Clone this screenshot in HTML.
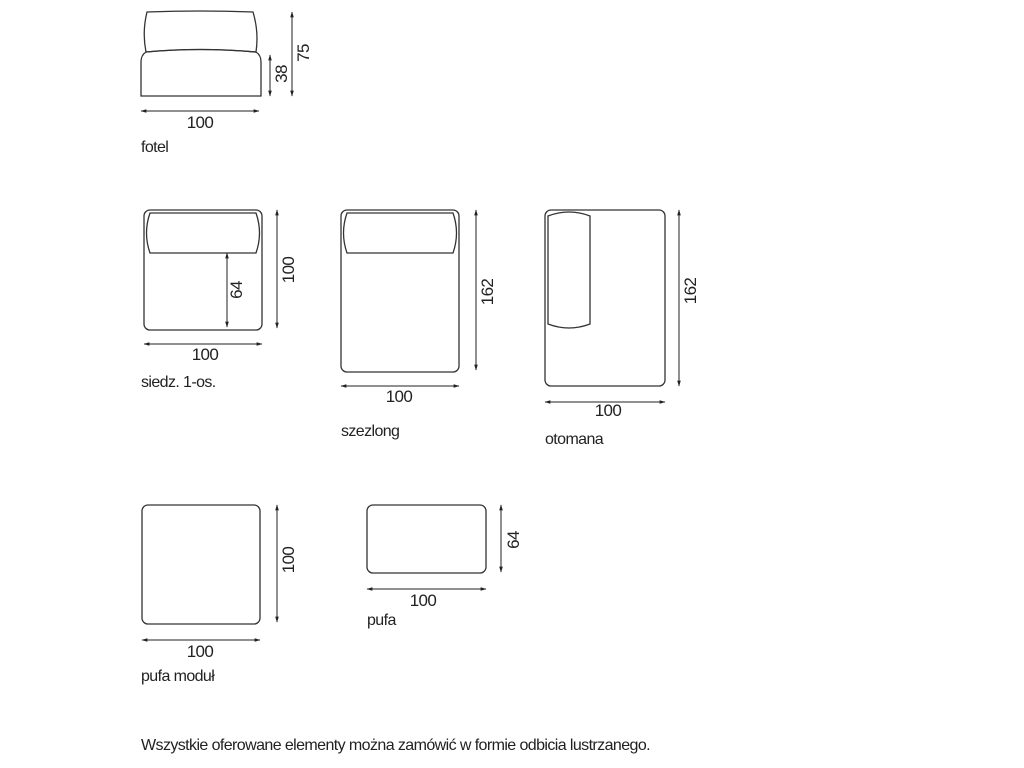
<!DOCTYPE html>
<html><head><meta charset="utf-8"><style>
html,body{margin:0;padding:0;background:#fff;width:1024px;height:768px;overflow:hidden}
svg{display:block}
text{font-family:"Liberation Sans",sans-serif;fill:#222;letter-spacing:-0.6px}
</style></head><body>
<svg width="1024" height="768" viewBox="0 0 1024 768">
<defs>
<marker id="a" viewBox="0 0 10 10" refX="9" refY="5" markerWidth="6" markerHeight="6" orient="auto-start-reverse"><path d="M0,2 L10,5 L0,8 z" fill="#222"/></marker>
</defs>
<g fill="none" stroke="#333" stroke-width="1.3">
<path d="M147,12 Q200,10 253,12 Q259,32 256,52 Q200,47 146,52 Q142,32 147,12 Z"/>
<path d="M146,52 Q200,47 256,52 Q261,55 261,62 L261,96 L141,96 L141,62 Q141,55 146,52 Z"/>
<rect x="144" y="210" width="118" height="120" rx="6"/>
<path d="M150,213 L256,213 Q263,233 256,253 L150,253 Q143,233 150,213 Z"/>
<rect x="341" y="210" width="118" height="162" rx="6"/>
<path d="M347,213 L453,213 Q460,233 453,253 L347,253 Q340,233 347,213 Z"/>
<rect x="545" y="210" width="120" height="176" rx="6"/>
<path d="M548,216 Q569,208 590,216 L590,324 Q569,332 548,324 Z"/>
<rect x="142" y="505" width="118" height="119" rx="6"/>
<rect x="367" y="505" width="119" height="68" rx="6"/>
</g>
<g stroke="#222" stroke-width="1" marker-start="url(#a)" marker-end="url(#a)">
<line x1="270" y1="55" x2="270" y2="96"/>
<line x1="292" y1="12" x2="292" y2="96"/>
<line x1="141" y1="111" x2="259" y2="111"/>
<line x1="227" y1="253" x2="227" y2="327"/>
<line x1="277" y1="210" x2="277" y2="328"/>
<line x1="144" y1="344" x2="262" y2="344"/>
<line x1="476" y1="210" x2="476" y2="370"/>
<line x1="341" y1="386" x2="459" y2="386"/>
<line x1="679" y1="210" x2="679" y2="386"/>
<line x1="545" y1="402" x2="665" y2="402"/>
<line x1="277" y1="505" x2="277" y2="622"/>
<line x1="142" y1="640" x2="260" y2="640"/>
<line x1="501" y1="505" x2="501" y2="572"/>
<line x1="367" y1="589" x2="486" y2="589"/>
</g>
<g font-size="17">
<text x="200" y="128" text-anchor="middle">100</text>
<text transform="translate(287,74) rotate(-90)" text-anchor="middle">38</text>
<text transform="translate(309,53) rotate(-90)" text-anchor="middle">75</text>
<text x="205" y="360" text-anchor="middle">100</text>
<text transform="translate(242,290) rotate(-90)" text-anchor="middle">64</text>
<text transform="translate(294,270) rotate(-90)" text-anchor="middle">100</text>
<text x="399" y="402" text-anchor="middle">100</text>
<text transform="translate(493,292) rotate(-90)" text-anchor="middle">162</text>
<text x="608" y="416" text-anchor="middle">100</text>
<text transform="translate(696,291) rotate(-90)" text-anchor="middle">162</text>
<text x="200" y="657" text-anchor="middle">100</text>
<text transform="translate(294,560) rotate(-90)" text-anchor="middle">100</text>
<text x="423" y="606" text-anchor="middle">100</text>
<text transform="translate(519,540) rotate(-90)" text-anchor="middle">64</text>
</g>
<g font-size="16">
<text x="141" y="152">fotel</text>
<text x="141" y="387">siedz. 1-os.</text>
<text x="341" y="436">szezlong</text>
<text x="545" y="444">otomana</text>
<text x="141" y="681">pufa moduł</text>
<text x="367" y="625">pufa</text>
<text x="141" y="750" textLength="509" lengthAdjust="spacingAndGlyphs">Wszystkie oferowane elementy można zamówić w formie odbicia lustrzanego.</text>
</g>
</svg>
</body></html>
